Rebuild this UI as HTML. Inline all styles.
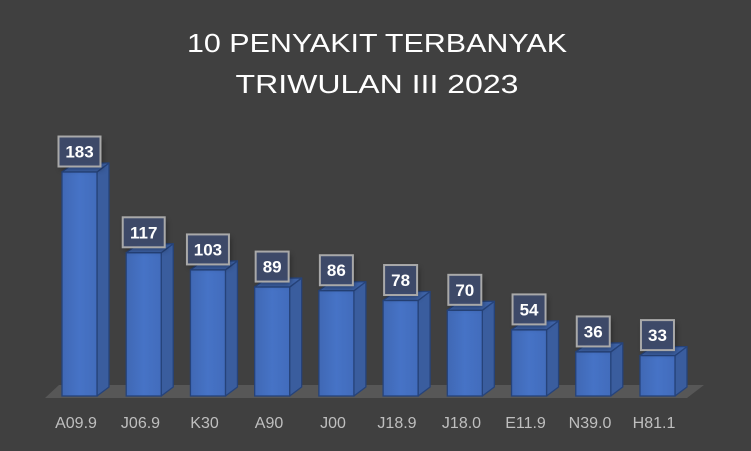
<!DOCTYPE html>
<html><head><meta charset="utf-8"><style>
html,body{margin:0;padding:0;background:#404040;}
svg{display:block;}
</style></head><body>
<svg width="751" height="451" viewBox="0 0 751 451" xmlns="http://www.w3.org/2000/svg">
<defs>
<linearGradient id="fr" x1="0" y1="0" x2="1" y2="0">
<stop offset="0" stop-color="#4068b4"/><stop offset="0.5" stop-color="#4673c6"/><stop offset="1" stop-color="#426cbc"/>
</linearGradient>
<filter id="sh" x="-30%" y="-30%" width="160%" height="160%"><feGaussianBlur stdDeviation="3"/></filter>
</defs>
<rect width="751" height="451" fill="#404040"/>
<text x="377" y="52" font-family="Liberation Sans, sans-serif" font-size="26" fill="#ffffff" text-anchor="middle" textLength="380" lengthAdjust="spacingAndGlyphs">10 PENYAKIT TERBANYAK</text>
<text x="377" y="93" font-family="Liberation Sans, sans-serif" font-size="26" fill="#ffffff" text-anchor="middle" textLength="283" lengthAdjust="spacingAndGlyphs">TRIWULAN III 2023</text>
<polygon points="45,398 687,398 704,385 59,385" fill="#575757"/>
<g id="bars"></g>
<g font-family="Liberation Sans, sans-serif" font-size="16" fill="#bfbfbf" text-anchor="middle">
<text x="76" y="428">A09.9</text>
<text x="140.5" y="428">J06.9</text>
<text x="204.5" y="428">K30</text>
<text x="269" y="428">A90</text>
<text x="333" y="428">J00</text>
<text x="397" y="428">J18.9</text>
<text x="461.5" y="428">J18.0</text>
<text x="525.5" y="428">E11.9</text>
<text x="590" y="428">N39.0</text>
<text x="654" y="428">H81.1</text>
</g>
</svg>
<script>
(function(){
var vals=[183,117,103,89,86,78,70,54,36,33];
var g=document.getElementById('bars');
var out='';
for(var i=0;i<vals.length;i++){
 var x=62+i*64.22,w=35,b=396,h=vals[i]*1.224,t=b-h,dx=12,dy=9;
 out+='<polygon points="'+(x+w)+','+b+' '+(x+w+dx)+','+(b-dy)+' '+(x+w+dx)+','+(t-dy)+' '+(x+w)+','+t+'" fill="#3a5d9e" stroke="#26437a" stroke-width="1.3" stroke-linejoin="round"/>';
 out+='<polygon points="'+x+','+t+' '+(x+dx)+','+(t-dy)+' '+(x+w+dx)+','+(t-dy)+' '+(x+w)+','+t+'" fill="#3e63a8" stroke="#26437a" stroke-width="1.3" stroke-linejoin="round"/>';
 out+='<rect x="'+x+'" y="'+t+'" width="'+w+'" height="'+h+'" fill="url(#fr)" stroke="#26437a" stroke-width="1.3"/>';
}
for(var i=0;i<vals.length;i++){
 var x=62+i*64.22,w=35,b=396,h=vals[i]*1.224,t=b-h;
 var bw=vals[i]>=100?42:33,bh=30,cx=x+w/2,by=t-5.5-bh;
 out+='<rect x="'+(cx-bw/2+2)+'" y="'+(by+3)+'" width="'+bw+'" height="'+bh+'" fill="#000" opacity="0.35" filter="url(#sh)"/>';
 out+='<rect x="'+(cx-bw/2)+'" y="'+by+'" width="'+bw+'" height="'+bh+'" fill="#3e4b6b" fill-opacity="0.95" stroke="#a9a9a9" stroke-width="2"/>';
 out+='<text x="'+cx+'" y="'+(by+21)+'" font-family="Liberation Sans, sans-serif" font-size="17" font-weight="bold" fill="#ffffff" text-anchor="middle">'+vals[i]+'</text>';
}
g.innerHTML=out;
})();
</script>
</body></html>
